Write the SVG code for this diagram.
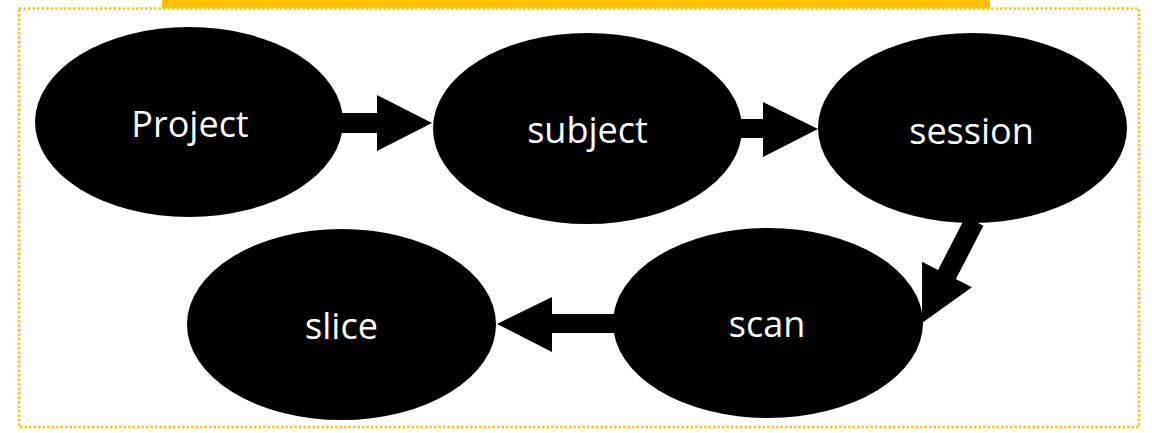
<svg xmlns="http://www.w3.org/2000/svg" width="1152" height="433" viewBox="0 0 1152 433">
  <style>
    .node ellipse { fill: #000000; }
    .node text { fill: #ffffff; font-family: "Open Sans", Lato, "Liberation Sans", sans-serif; font-size: 36px; text-anchor: middle; }
    .arrow { fill: #000000; }
    .frame { fill: none; stroke: #FFC000; stroke-width: 2.5; stroke-dasharray: 2.5 2; }
  </style>
  <rect width="1152" height="433" fill="#ffffff"/>
  <rect class="frame" x="19" y="8.5" width="1120" height="418.5"/>
  <rect x="162" y="0" width="828" height="8" fill="#FFC000"/>

  <g id="connectors">
    <polygon class="arrow" points="340,113 377,113 377,95 432,123 377,151 377,133 340,133"/>
    <polygon class="arrow" points="739,119 763,119 763,102 818,129 763,157 763,138 739,138"/>
    <polygon class="arrow" points="983.4,225.8 955.9,279.1 971.9,287.3 922,323 922.1,261.7 938.1,269.9 965.6,216.6"/>
    <polygon class="arrow" points="616,314 552,314 552,297 497,324 552,352 552,333 616,333"/>
  </g>

  <g id="node-project" class="node">
    <ellipse cx="189" cy="122" rx="154" ry="95"/>
    <text x="190" y="137">Project</text>
  </g>
  <g id="node-subject" class="node">
    <ellipse cx="587.5" cy="128.5" rx="154.5" ry="95.5"/>
    <text x="587.5" y="143">subject</text>
  </g>
  <g id="node-session" class="node">
    <ellipse cx="972.5" cy="128" rx="154.5" ry="95"/>
    <text x="971.5" y="144">session</text>
  </g>
  <g id="node-scan" class="node">
    <ellipse cx="768" cy="323" rx="155" ry="95"/>
    <text x="767" y="337">scan</text>
  </g>
  <g id="node-slice" class="node">
    <ellipse cx="341.5" cy="324.5" rx="154.5" ry="95.5"/>
    <text x="341.5" y="339">slice</text>
  </g>
</svg>
